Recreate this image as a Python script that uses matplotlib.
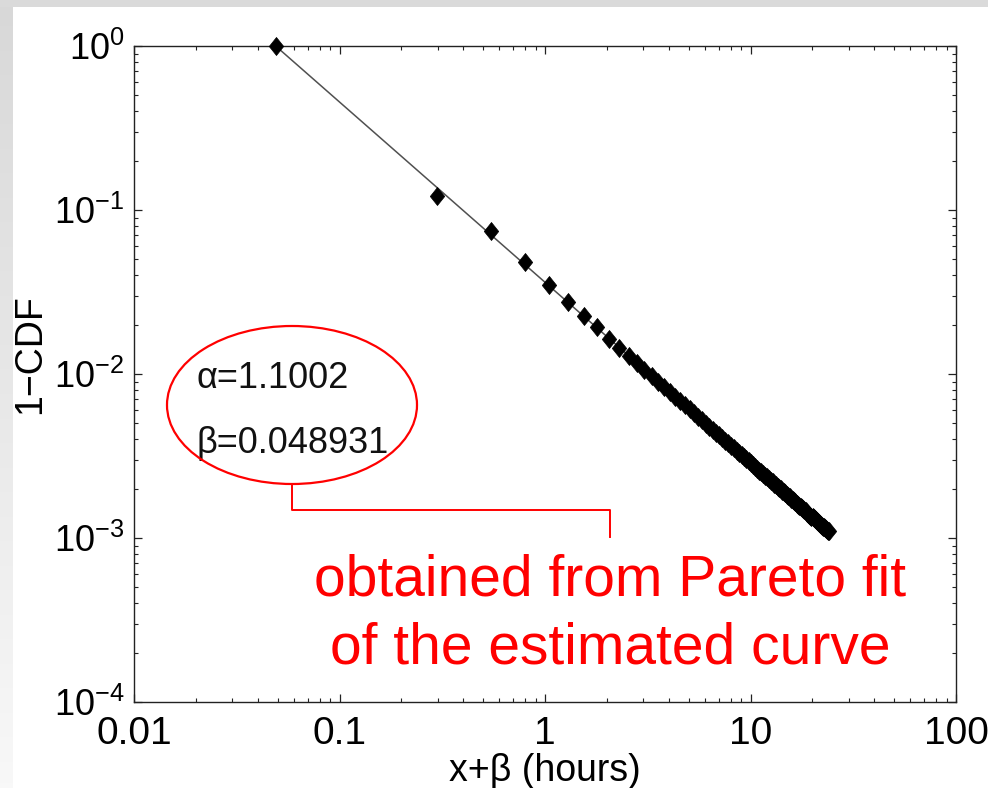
import numpy as np
import matplotlib
matplotlib.use('Agg')
import matplotlib.pyplot as plt
from matplotlib.patches import Ellipse, Rectangle
from matplotlib.lines import Line2D
from matplotlib.path import Path
from matplotlib.colors import LinearSegmentedColormap
from matplotlib.ticker import FixedLocator, NullFormatter, FixedFormatter

plt.rcParams['font.family'] = ['Liberation Sans', 'DejaVu Sans']
plt.rcParams['mathtext.fontset'] = 'custom'
plt.rcParams['mathtext.rm'] = 'Liberation Sans'
plt.rcParams['mathtext.it'] = 'Liberation Sans:italic'
plt.rcParams['mathtext.bf'] = 'Liberation Sans:bold'

# ---------------- data ----------------
x_beta = [0.0489, 0.2989, 0.5489, 0.7989, 1.0489, 1.2989, 1.5489, 1.7989, 2.0489, 2.2989,
          2.5489, 2.7989, 3.0489, 3.2989, 3.5489, 3.7989, 4.0489, 4.2989, 4.5489, 4.7989,
          5.0489, 5.2989, 5.5489, 5.7989, 6.0489, 6.2989, 6.5489, 6.7989, 7.0489, 7.2989,
          7.5489, 7.7989, 8.0489, 8.2989, 8.5489, 8.7989, 9.0489, 9.2989, 9.5489, 9.7989,
          10.0489, 10.2989, 10.5489, 10.7989, 11.0489, 11.2989, 11.5489, 11.7989, 12.0489, 12.2989,
          12.5489, 12.7989, 13.0489, 13.2989, 13.5489, 13.7989, 14.0489, 14.2989, 14.5489, 14.7989,
          15.0489, 15.2989, 15.5489, 15.7989, 16.0489, 16.2989, 16.5489, 16.7989, 17.0489, 17.2989,
          17.5489, 17.7989, 18.0489, 18.2989, 18.5489, 18.7989, 19.0489, 19.2989, 19.5489, 19.7989,
          20.0489, 20.2989, 20.5489, 20.7989, 21.0489, 21.2989, 21.5489, 21.7989, 22.0489, 22.2989,
          22.5489, 22.7989, 23.0489, 23.2989, 23.5489, 23.7989, 24.0489]
one_minus_cdf = [1.0, 0.122, 0.0745, 0.0482, 0.0349, 0.0275, 0.0226, 0.0194, 0.0163, 0.0144,
                 0.01292, 0.01166, 0.01061, 0.00973, 0.00898, 0.00833, 0.00776, 0.00727, 0.00683, 0.00644,
                 0.00609, 0.00577, 0.00549, 0.00523, 0.00499, 0.00477, 0.00457, 0.00439, 0.00422, 0.00406,
                 0.00391, 0.00377, 0.00364, 0.00352, 0.00341, 0.00330, 0.00320, 0.00311, 0.00302, 0.00293,
                 0.00285, 0.00278, 0.00271, 0.00264, 0.00257, 0.00251, 0.00245, 0.00239, 0.00234, 0.00229,
                 0.00224, 0.00219, 0.00214, 0.00210, 0.00206, 0.00202, 0.00198, 0.00194, 0.00190, 0.00187,
                 0.00183, 0.00180, 0.00177, 0.00174, 0.00171, 0.00168, 0.00165, 0.00162, 0.00160, 0.00157,
                 0.00155, 0.00152, 0.00150, 0.00148, 0.00146, 0.00143, 0.00141, 0.00139, 0.00137, 0.00135,
                 0.00134, 0.00132, 0.00130, 0.00128, 0.00127, 0.00125, 0.00123, 0.00122, 0.00120, 0.00119,
                 0.00117, 0.00116, 0.00115, 0.00113, 0.00112, 0.00111, 0.00110]
fit_x = [0.0489, 24.0489]
fit_y = [1.0, 0.00110]

alpha_text = 'α=1.1002'
beta_text = 'β=0.048931'
note_lines = ['obtained from Pareto fit', 'of the estimated curve']

x_ticks = [0.01, 0.1, 1, 10, 100]
x_tick_labels = ['0.01', '0.1', '1', '10', '100']
y_ticks = [1e-4, 1e-3, 1e-2, 1e-1, 1]
y_tick_labels = [r'$10^{-4}$', r'$10^{-3}$', r'$10^{-2}$', r'$10^{-1}$', r'$10^{0}$']
x_label = 'x+β (hours)'
y_label = '1−CDF'

# ---------------- figure ----------------
W, H = 988, 788
fig = plt.figure(figsize=(W / 100, H / 100), dpi=100)
fig.patch.set_facecolor('white')

def fx(px):
    return px / W

def fy(py):
    return 1 - py / H

# slide-like grey border (top and left)
bg = fig.add_axes([0, 0, 1, 1], zorder=-10)
bg.set_axis_off()
grad = np.linspace(0, 1, 256)[:, None]
cmap = LinearSegmentedColormap.from_list('g', ['#d8d8d8', '#f8f8f8'])
bg.imshow(grad, extent=(0, 12, H, 0), cmap=cmap, aspect='auto', interpolation='bilinear')
bg.add_patch(Rectangle((0, 0), W, 7, color='#dadada', lw=0))
bg.set_xlim(0, W)
bg.set_ylim(H, 0)

ax = fig.add_axes([fx(134), fy(702), (956 - 134) / W, (702 - 46) / H])
ax.set_xscale('log')
ax.set_yscale('log')
ax.set_xlim(0.01, 100)
ax.set_ylim(1e-4, 1)

diamond = Path([(0, 1), (0.8, 0), (0, -1), (-0.8, 0), (0, 1)],
               [Path.MOVETO, Path.LINETO, Path.LINETO, Path.LINETO, Path.CLOSEPOLY])

ax.plot(fit_x, fit_y, color='#505050', lw=1.1, zorder=2)
ax.plot(x_beta, one_minus_cdf, linestyle='none', marker=diamond, markersize=13,
        markerfacecolor='black', markeredgecolor='black', markeredgewidth=0.5,
        clip_on=False, zorder=3)

ax.xaxis.set_major_locator(FixedLocator(x_ticks))
ax.xaxis.set_major_formatter(FixedFormatter(x_tick_labels))
ax.yaxis.set_major_locator(FixedLocator(y_ticks))
ax.yaxis.set_major_formatter(FixedFormatter(y_tick_labels))
ax.xaxis.set_minor_formatter(NullFormatter())
ax.yaxis.set_minor_formatter(NullFormatter())

ax.tick_params(which='both', direction='in', top=True, right=True, colors='#222222')
ax.tick_params(which='major', length=6, width=0.9, labelcolor='black')
ax.tick_params(axis='x', which='major', labelsize=28, pad=10)
ax.tick_params(axis='y', which='major', labelsize=26, pad=7)
ax.tick_params(which='minor', length=3.2, width=0.8)
for s in ax.spines.values():
    s.set_linewidth(1.0)
    s.set_color('#222222')

ax.set_xlabel(x_label, fontsize=27, labelpad=1)
ax.set_ylabel(y_label, fontsize=27)
ax.yaxis.set_label_coords(-0.104, 0.53)

# annotation: ellipse, connector, texts
ell = Ellipse((fx(292), fy(405)), width=250 / W, height=158 / H, transform=fig.transFigure,
              fill=False, edgecolor='#ff0000', lw=1.6, zorder=5)
fig.add_artist(ell)
conn = Line2D([fx(292), fx(292), fx(610), fx(610)], [fy(484), fy(510), fy(510), fy(537)],
              transform=fig.transFigure, color='#ff0000', lw=1.4, zorder=5)
fig.add_artist(conn)

fig.text(fx(196), fy(388), alpha_text, fontsize=26, ha='left', va='baseline', color='#111111')
fig.text(fx(196), fy(453), beta_text, fontsize=26, ha='left', va='baseline', color='#111111')

fig.text(fx(610), fy(596), note_lines[0], fontsize=41, ha='center', va='baseline', color='#ff0000')
fig.text(fx(610), fy(663), note_lines[1], fontsize=41, ha='center', va='baseline', color='#ff0000')

fig.savefig('out.png', dpi=100, facecolor=fig.get_facecolor())
